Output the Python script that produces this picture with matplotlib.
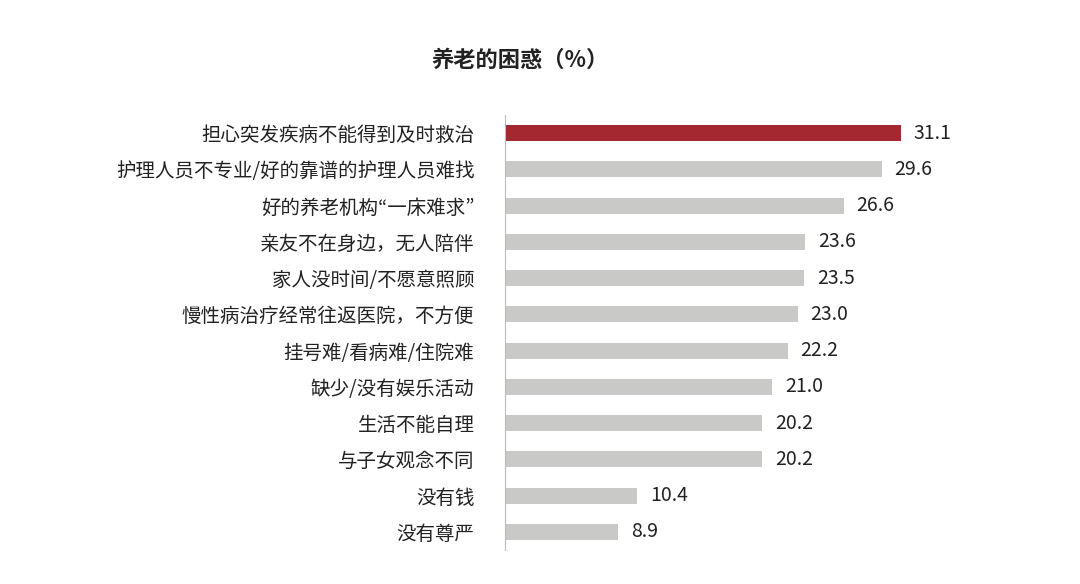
import matplotlib
matplotlib.use("Agg")
import matplotlib.pyplot as plt

plt.rcParams["font.family"] = ["Noto Sans CJK SC", "Noto Sans CJK JP", "Noto Sans CJK TC", "Noto Sans CJK KR", "DejaVu Sans"]

categories = ["担心突发疾病不能得到及时救治", "护理人员不专业/好的靠谱的护理人员难找", "好的养老机构“一床难求”",
              "亲友不在身边，无人陪伴", "家人没时间/不愿意照顾", "慢性病治疗经常往返医院，不方便",
              "挂号难/看病难/住院难", "缺少/没有娱乐活动", "生活不能自理", "与子女观念不同", "没有钱", "没有尊严"]
values = [31.1, 29.6, 26.6, 23.6, 23.5, 23.0, 22.2, 21.0, 20.2, 20.2, 10.4, 8.9]
title = "养老的困惑（%）"

fig = plt.figure(figsize=(10.8, 5.84), dpi=100)
ax = fig.add_axes([505/1080, 1-550/584, 505/1080, 435/584])
colors = ["#A3282F"] + ["#C9C9C7"] * (len(values) - 1)
y = list(range(len(values)))
ax.barh(y, values, height=0.44, color=colors)
ax.set_ylim(len(values) - 0.5, -0.5)
ax.set_xlim(0, 505/12.73)
ax.set_yticks(y)
ax.set_yticklabels(categories, fontsize=14, color="#222222")
ax.tick_params(axis="y", length=0, pad=22)
ax.set_xticks([])
for s in ["top", "right", "bottom"]:
    ax.spines[s].set_visible(False)
ax.spines["left"].set_color("#BBBBBB")
for yi, v in zip(y, values):
    ax.text(v + 1.0, yi, f"{v:.1f}", va="center", ha="left", fontsize=14, color="#222222")
fig.text(520/1080, 1-60/584, title, ha="center", va="center", fontsize=16, fontweight="bold", color="#222222")
fig.savefig("out.png", dpi=100)
